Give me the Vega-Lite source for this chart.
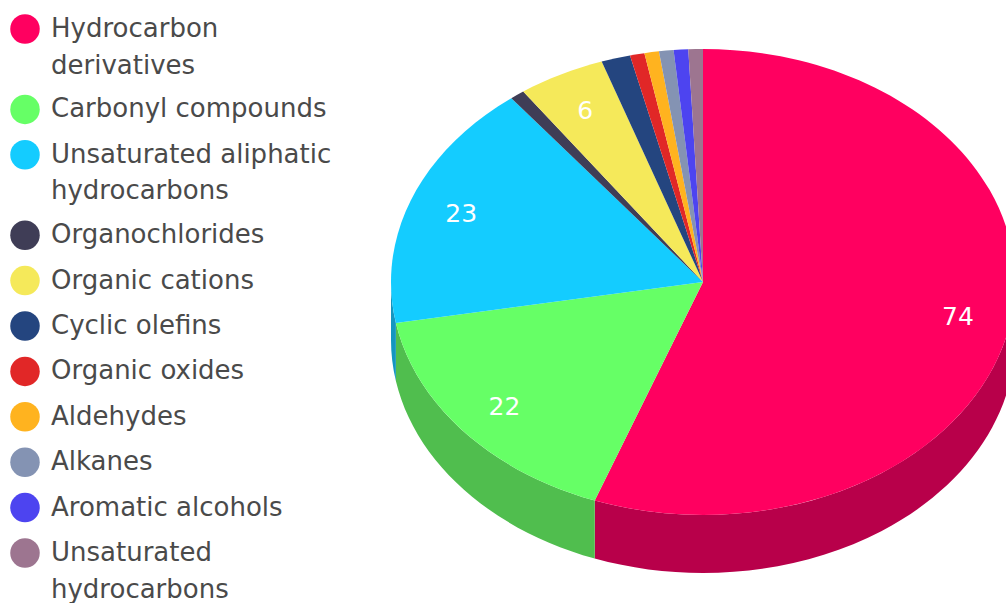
{
  "$schema": "https://vega.github.io/schema/vega-lite/v6.json",
  "width": 1006,
  "height": 603,
  "padding": 0,
  "autosize": {"type": "fit", "contains": "padding"},
  "background": "#ffffff",
  "config": {"view": {"stroke": null}},
  "data": {
    "values": [
      {"order": 1, "compound": "Hydrocarbon derivatives", "count": 74},
      {"order": 2, "compound": "Carbonyl compounds", "count": 22},
      {"order": 3, "compound": "Unsaturated aliphatic hydrocarbons", "count": 23},
      {"order": 4, "compound": "Organochlorides", "count": 1},
      {"order": 5, "compound": "Organic cations", "count": 6},
      {"order": 6, "compound": "Cyclic olefins", "count": 2},
      {"order": 7, "compound": "Organic oxides", "count": 1},
      {"order": 8, "compound": "Aldehydes", "count": 1},
      {"order": 9, "compound": "Alkanes", "count": 1},
      {"order": 10, "compound": "Aromatic alcohols", "count": 1},
      {"order": 11, "compound": "Unsaturated hydrocarbons", "count": 1}
    ]
  },
  "transform": [
    {"stack": "count", "sort": [{"field": "order", "order": "ascending"}], "as": ["c0", "c1"], "offset": "zero"},
    {"joinaggregate": [{"op": "sum", "field": "count", "as": "total"}]},
    {"calculate": "2*PI*datum.c0/datum.total", "as": "a0"},
    {"calculate": "2*PI*datum.c1/datum.total", "as": "a1"},
    {"calculate": "round(312*sin(datum.a0)*100)/100+','+round(-233*cos(datum.a0)*100)/100", "as": "p0"},
    {"calculate": "round(312*sin(datum.a1)*100)/100+','+round(-233*cos(datum.a1)*100)/100", "as": "p1"},
    {"calculate": "'M0,0L'+datum.p0+'A312,233,0,'+(datum.a1-datum.a0>PI?1:0)+',1,'+datum.p1+'Z'", "as": "wedge"},
    {"calculate": "max(datum.a0,PI/2)", "as": "b0"},
    {"calculate": "min(datum.a1,3*PI/2)", "as": "b1"},
    {"calculate": "round(312*sin(datum.b0)*100)/100", "as": "bx0"},
    {"calculate": "round(-233*cos(datum.b0)*100)/100", "as": "by0"},
    {"calculate": "round(312*sin(datum.b1)*100)/100", "as": "bx1"},
    {"calculate": "round(-233*cos(datum.b1)*100)/100", "as": "by1"},
    {"calculate": "'M'+datum.bx0+','+datum.by0+'A312,233,0,0,1,'+datum.bx1+','+datum.by1+'L'+datum.bx1+','+(datum.by1+58)+'A312,233,0,0,0,'+datum.bx0+','+(datum.by0+58)+'Z'", "as": "wall"},
    {"calculate": "(datum.a0+datum.a1)/2", "as": "mid"},
    {"calculate": "703+0.83*312*sin(datum.mid)", "as": "labelX"},
    {"calculate": "283-0.83*233*cos(datum.mid)", "as": "labelY"}
  ],
  "layer": [
    {
      "description": "Side wall of the slices on the near half of the pie",
      "transform": [{"filter": "datum.b1 > datum.b0"}],
      "mark": {"type": "point", "filled": true, "opacity": 1, "size": 4},
      "encoding": {
        "x": {"value": 703},
        "y": {"value": 282},
        "shape": {"field": "wall", "type": "nominal", "scale": null},
        "color": {
          "field": "compound",
          "type": "nominal",
          "legend": null,
          "scale": {
            "domain": ["Hydrocarbon derivatives", "Carbonyl compounds", "Unsaturated aliphatic hydrocarbons"],
            "range": ["#B8004A", "#50BE4E", "#1496C0"]
          }
        }
      }
    },
    {
      "description": "Top face of each slice",
      "mark": {"type": "point", "filled": true, "opacity": 1, "size": 4},
      "encoding": {
        "x": {"value": 703},
        "y": {"value": 282},
        "shape": {"field": "wedge", "type": "nominal", "scale": null},
        "color": {
          "field": "compound",
          "type": "nominal",
          "scale": {
            "domain": ["Hydrocarbon derivatives", "Carbonyl compounds", "Unsaturated aliphatic hydrocarbons", "Organochlorides", "Organic cations", "Cyclic olefins", "Organic oxides", "Aldehydes", "Alkanes", "Aromatic alcohols", "Unsaturated hydrocarbons"],
            "range": ["#FF0060", "#66FF66", "#14CCFF", "#3F3D56", "#F5E95A", "#24457F", "#E12727", "#FFB31F", "#8493B3", "#4D44F0", "#9D7590"]
          },
          "legend": {
            "title": null,
            "orient": "none",
            "legendX": 10,
            "legendY": 14,
            "symbolType": "circle",
            "symbolSize": 870,
            "symbolStrokeWidth": 0,
            "symbolOpacity": 1,
            "labelFont": "DejaVu Sans",
            "labelFontSize": 26,
            "labelColor": "#4A4A4A",
            "labelLimit": 320,
            "labelOffset": 11,
            "rowPadding": 15.4,
            "encode": {"labels": {"update": {"lineHeight": {"value": 36.5}}}},
            "labelExpr": "datum.label=='Hydrocarbon derivatives'?['Hydrocarbon','derivatives']:datum.label=='Unsaturated aliphatic hydrocarbons'?['Unsaturated aliphatic','hydrocarbons']:datum.label=='Unsaturated hydrocarbons'?['Unsaturated','hydrocarbons']:datum.label"
          }
        }
      }
    },
    {
      "description": "Counts printed on the larger slices",
      "transform": [{"filter": "datum.count >= 6"}],
      "mark": {"type": "text", "font": "DejaVu Sans", "fontSize": 25, "color": "#ffffff", "align": "center", "baseline": "middle"},
      "encoding": {
        "x": {"field": "labelX", "type": "quantitative", "scale": null},
        "y": {"field": "labelY", "type": "quantitative", "scale": null},
        "text": {"field": "count", "type": "quantitative"}
      }
    }
  ],
  "resolve": {"scale": {"color": "independent"}}
}
